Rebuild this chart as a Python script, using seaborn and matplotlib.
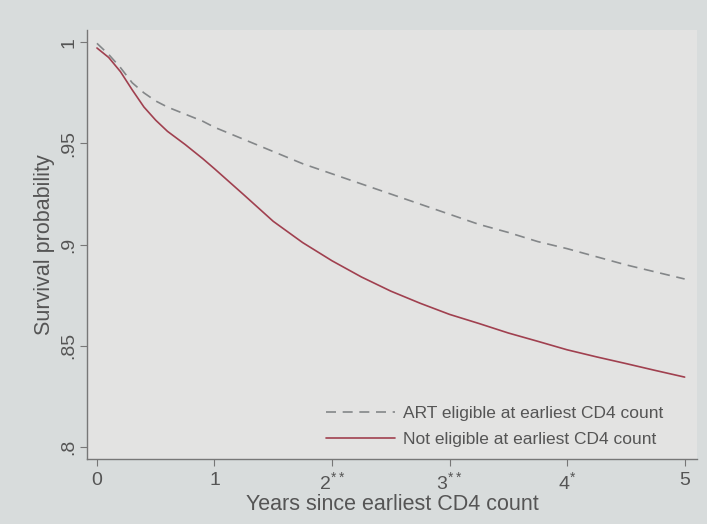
import pandas as pd
import seaborn as sns
import matplotlib.pyplot as plt

# survival curves
years = [0, 0.1, 0.2, 0.3, 0.4, 0.5, 0.6, 0.75, 0.9, 1.0, 1.25, 1.5, 1.75,
         2.0, 2.25, 2.5, 2.75, 3.0, 3.25, 3.5, 3.75, 4.0, 4.25, 4.5, 4.75, 5.0]
art_eligible = [0.9995, 0.994, 0.9875, 0.980, 0.975, 0.971, 0.968, 0.9645, 0.961,
                0.958, 0.952, 0.946, 0.940, 0.935, 0.930, 0.925, 0.920, 0.915,
                0.910, 0.906, 0.9015, 0.898, 0.894, 0.890, 0.8865, 0.883]
not_eligible = [0.9972, 0.9925, 0.9855, 0.9765, 0.968, 0.9615, 0.956, 0.9495, 0.9425,
                0.9375, 0.9246, 0.9115, 0.901, 0.892, 0.884, 0.877, 0.871, 0.8655,
                0.861, 0.8563, 0.8522, 0.848, 0.8445, 0.8412, 0.8378, 0.8345]
series_labels = ['ART eligible at earliest CD4 count', 'Not eligible at earliest CD4 count']
x_ticks = [0, 1, 2, 3, 4, 5]
x_tick_labels = ['0', '1', r'2$^{**}$', r'3$^{**}$', r'4$^{*}$', '5']
y_ticks = [0.8, 0.85, 0.9, 0.95, 1.0]
y_tick_labels = ['.8', '.85', '.9', '.95', '1']

df = pd.DataFrame({
    'years': years * 2,
    'surv': art_eligible + not_eligible,
    'group': [series_labels[0]] * len(years) + [series_labels[1]] * len(years),
})

sns.set_style('white')
plt.rcParams['font.family'] = ['Liberation Sans', 'DejaVu Sans']
plt.rcParams['mathtext.fontset'] = 'custom'
plt.rcParams['mathtext.rm'] = 'Liberation Sans'

fig = plt.figure(figsize=(7.07, 5.24), dpi=100, facecolor='#d8dcdc')
ax = fig.add_axes([0.123, 0.124, 0.863, 0.818])
ax.set_facecolor('#e3e3e2')

sns.lineplot(data=df[df['group'] == series_labels[0]], x='years', y='surv',
             color='#848789', linestyle=(0, (6, 4)), linewidth=1.2,
             label=series_labels[0], ax=ax)
sns.lineplot(data=df[df['group'] == series_labels[1]], x='years', y='surv',
             color='#a0404f', linewidth=1.2, label=series_labels[1], ax=ax)

ax.set_xlim(-0.085, 5.106)
ax.set_ylim(0.794, 1.0059)
ax.set_xticks(x_ticks)
ax.set_xticklabels(x_tick_labels)
ax.set_yticks(y_ticks)
ax.set_yticklabels(y_tick_labels, rotation=90, va='center')

for side in ['top', 'right']:
    ax.spines[side].set_visible(False)
for side in ['left', 'bottom']:
    ax.spines[side].set_color('#777777')
    ax.spines[side].set_linewidth(1.0)
ax.tick_params(axis='both', direction='out', length=5, width=0.8, color='#777777',
               labelsize=14, labelcolor='#555555', left=True, bottom=True, pad=2)
ax.tick_params(axis='x', pad=4)

ax.set_xlabel('Years since earliest CD4 count', fontsize=15.5, color='#555555', labelpad=0)
ax.set_ylabel('Survival probability', fontsize=15.5, color='#555555', labelpad=4)

leg = ax.legend(loc='lower right', bbox_to_anchor=(0.97, -0.009), frameon=False,
                fontsize=12.5, handlelength=4.0, handletextpad=0.45, labelspacing=0.62)
for t in leg.get_texts():
    t.set_color('#555555')

fig.savefig('out.png', dpi=100, facecolor=fig.get_facecolor())
